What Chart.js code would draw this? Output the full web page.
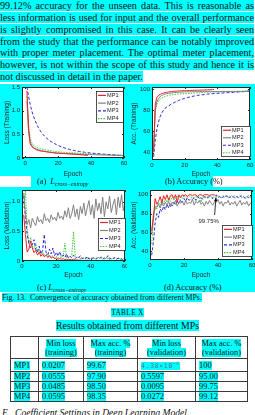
<!DOCTYPE html>
<html>
<head>
<meta charset="utf-8">
<script src="https://cdn.jsdelivr.net/npm/chart.js@4.4.0/dist/chart.umd.min.js"></script>
<style>
  html, body { margin: 0; padding: 0; background: #fff; }
  body { width: 255px; height: 415px; overflow: hidden; position: relative;
         font-family: "Liberation Serif", "Times New Roman", serif; color: #111; }
  .ab { position: absolute; }
  .hl { background: #00ffff; }
  .ln { position: absolute; left: 0; width: 254px; height: 11px; font-size: 10.2px; line-height: 11px;
        white-space: nowrap; text-align: justify; text-align-last: justify; }
  .cap { position: absolute; font-size: 8.3px; line-height: 10px; white-space: nowrap; }
  .cap sub { font-size: 5.8px; vertical-align: -1.5px; }
  table.tb { border-collapse: collapse; font-size: 8.4px; line-height: 9px; }
  table.tb td { border: 1px solid #3a3a3a; padding: 0 0 0 3px; vertical-align: middle; }
  .sci { font-family: "DejaVu Sans Mono", monospace; font-size: 6.6px; color: #4d7896; letter-spacing: 0.6px; }
</style>
</head>
<body>
<div class="ln hl" style="top:0px">99.12% accuracy for the unseen data. This is reasonable as</div>
<div class="ln hl" style="top:12px">less information is used for input and the overall performance</div>
<div class="ln hl" style="top:24px">is slightly compromised in this case. It can be clearly seen</div>
<div class="ln hl" style="top:36px">from the study that the performance can be notably improved</div>
<div class="ln hl" style="top:47px">with proper meter placement. The optimal meter placement,</div>
<div class="ln hl" style="top:59px">however, is not within the scope of this study and hence it is</div>
<div class="ln" style="top:71px;text-align-last:left"><span class="hl">not discussed in detail in the paper.</span></div>

<div class="ab hl" style="left:0;top:84px;width:255px;height:208px"></div>
<div class="ab" style="left:0;top:176px;width:31px;height:11px;background:#fff"></div>
<div class="ab" style="left:213px;top:176px;width:42px;height:11px;background:#fff"></div>

<canvas id="cA" class="ab"></canvas>
<canvas id="cB" class="ab"></canvas>
<canvas id="cC" class="ab"></canvas>
<canvas id="cD" class="ab"></canvas>

<div class="cap" style="left:37px;top:177px">(a)&nbsp; <i>L</i><sub><i>cross−entropy</i></sub></div>
<div class="cap" style="left:165px;top:177px">(b) Accuracy (%)</div>
<div class="cap" style="left:37px;top:283px">(c) <i>L</i><sub><i>cross−entropy</i></sub></div>
<div class="cap" style="left:164px;top:283px">(d) Accuracy (%)</div>

<div class="ab" style="left:2px;top:293px;font-size:7.8px;line-height:10px;white-space:nowrap"><span class="hl">Fig. 13.&nbsp; Convergence of accuracy obtained from different MPs.</span></div>

<div class="ab" style="left:0;top:308px;width:255px;text-align:center;font-size:7.4px;line-height:9px;letter-spacing:0.3px"><span class="hl">TABLE X</span></div>
<div class="ab" style="left:0;top:320px;width:255px;text-align:center;font-size:9.8px;line-height:12px"><span class="hl">Results obtained from different MPs</span></div>

<table class="ab tb" style="left:10px;top:336px">
  <colgroup><col style="width:28px"><col style="width:45px"><col style="width:54px"><col style="width:58px"><col style="width:52px"></colgroup>
  <tr style="height:22px">
    <td></td>
    <td style="text-align:center;padding:0"><span class="hl">Min loss</span><br><span class="hl">(training)</span></td>
    <td style="text-align:center;padding:0"><span class="hl">Max acc. %</span><br><span class="hl">(training)</span></td>
    <td style="text-align:center;padding:0"><span class="hl">Min loss</span><br><span class="hl">(validation)</span></td>
    <td style="text-align:center;padding:0"><span class="hl">Max acc. %</span><br><span class="hl">(validation)</span></td>
  </tr>
  <tr style="height:10px"><td><span class="hl">MP1</span></td><td><span class="hl">0.0207</span></td><td><span class="hl">99.67</span></td><td><span class="hl sci">4.38×10<sup style="font-size:4.5px">−5</sup></span></td><td><span class="hl">100</span></td></tr>
  <tr style="height:10px"><td><span class="hl">MP2</span></td><td><span class="hl">0.0555</span></td><td><span class="hl">97.90</span></td><td><span class="hl">0.5597</span></td><td><span class="hl">95.00</span></td></tr>
  <tr style="height:10px"><td><span class="hl">MP3</span></td><td><span class="hl">0.0485</span></td><td><span class="hl">98.50</span></td><td><span class="hl">0.0095</span></td><td><span class="hl">99.75</span></td></tr>
  <tr style="height:10px"><td><span class="hl">MP4</span></td><td><span class="hl">0.0595</span></td><td><span class="hl">98.35</span></td><td><span class="hl">0.0272</span></td><td><span class="hl">99.12</span></td></tr>
</table>

<div class="ab" style="left:2px;top:407px;font-size:9.6px;line-height:11px;font-style:italic;white-space:nowrap">E.&nbsp; Coefficient Settings in Deep Learning Model</div>

<script>
// epochs and tick labels
const epochs = [1,2,3,4,5,6,7,8,9,10,11,12,13,14,15,16,17,18,19,20,
  21,22,23,24,25,26,27,28,29,30,31,32,33,34,35,36,37,38,39,40,
  41,42,43,44,45,46,47,48,49,50,51,52,53,54,55,56,57,58,59,60];
const mpNames = ['MP1', 'MP2', 'MP3', 'MP4'];
const xTicks = [0, 20, 40, 60];
const lossTrainTicks = [0, 0.5, 1, 1.5];
const lossValTicks = [0, 0.5, 1];
const accTicks = [40, 60, 80, 100];

// (a) training loss
const lossTrainMP1 = [1.42,0.6,0.3,0.24,0.21,0.19,0.17,0.16,0.15,0.145,
  0.14,0.135,0.13,0.125,0.12,0.115,0.11,0.105,0.1,0.1,
  0.098,0.096,0.094,0.092,0.09,0.088,0.086,0.084,0.082,0.08,
  0.078,0.075,0.072,0.068,0.064,0.06,0.056,0.052];
const lossTrainMP2 = [1.2,0.55,0.33,0.26,0.22,0.2,0.185,0.172,0.162,0.153,
  0.146,0.14,0.134,0.129,0.124,0.12,0.116,0.112,0.108,0.105,
  0.102,0.1,0.098,0.096,0.094,0.092,0.09,0.088,0.086,0.084,
  0.082,0.08,0.079,0.078,0.077,0.076,0.075,0.074,0.073,0.072,
  0.071,0.07,0.069,0.068,0.067,0.066,0.065,0.064,0.063,0.062,
  0.061,0.06,0.059,0.058,0.057,0.056,0.0555,0.0555,0.0555,0.0555];
const lossTrainMP3 = [1.5,1.3,1.13,0.99,0.88,0.79,0.71,0.64,0.58,0.53,
  0.49,0.45,0.42,0.39,0.36,0.34,0.32,0.3,0.28,0.265,
  0.25,0.235,0.222,0.21,0.2,0.19,0.18,0.172,0.164,0.156,
  0.15,0.144,0.138,0.132,0.127,0.122,0.117,0.113,0.109,0.105,
  0.101,0.098,0.095,0.092,0.089,0.086,0.083,0.08,0.077,0.074,
  0.071,0.068,0.066,0.064,0.061,0.058,0.055,0.052,0.05,0.0485];
const lossTrainMP4 = [1.3,0.72,0.42,0.32,0.26,0.24,0.22,0.21,0.2,0.19,
  0.182,0.175,0.168,0.162,0.156,0.15,0.145,0.14,0.135,0.13,
  0.127,0.124,0.121,0.118,0.115,0.113,0.111,0.109,0.107,0.105,
  0.103,0.101,0.099,0.097,0.095,0.093,0.091,0.089,0.087,0.085,
  0.083,0.081,0.079,0.077,0.076,0.075,0.074,0.073,0.072,0.071,
  0.07,0.069,0.068,0.067,0.066,0.065,0.063,0.061,0.06,0.0595];

// (b) training accuracy
const accTrainMP1 = [42,86,92,94,95,95.8,96.3,96.7,97,97.3,
  97.5,97.7,97.9,98,98.1,98.2,98.3,98.4,98.5,98.6,
  98.6,98.7,98.7,98.8,98.8,98.9,98.9,99,99,99.1,
  99.1,99.2,99.2,99.3,99.4,99.5,99.6,99.67];
const accTrainMP2 = [40,80,88,91,93,94,94.8,95.3,95.7,96,
  96.2,96.4,96.6,96.8,96.9,97,97.1,97.2,97.3,97.4,
  97.4,97.5,97.5,97.5,97.6,97.6,97.6,97.7,97.7,97.7,
  97.7,97.8,97.8,97.8,97.9,97.9,97.8,97.7,97.7,97.7,
  97.6,97.7,97.7,97.8,97.7,97.7,97.8,97.7,97.8,97.8,
  97.7,97.8,97.8,97.7,97.8,97.8,97.9,97.8,97.8,97.9];
const accTrainMP3 = [36,52,62,69,74,77.5,80,81.8,83,84,
  85,86,86.8,87.6,88.3,89,89.6,90.2,90.8,91.3,
  91.7,92.1,92.5,92.9,93.2,93.5,93.8,94.1,94.3,94.5,
  94.7,94.9,95.1,95.3,95.4,95.6,95.7,95.8,95.9,96,
  96.1,96.2,96.3,96.4,96.5,96.6,96.7,96.8,96.9,97,
  97.1,97.2,97.3,97.4,97.5,97.6,97.8,98,98.2,98.5];
const accTrainMP4 = [45,80,86,89,90.5,91.5,92.3,93,93.5,94,
  94.3,94.6,94.8,95,95.2,95.3,95.4,95.5,95.6,95.7,
  95.8,95.9,96,96.1,96.2,96.3,96.4,96.5,96.6,96.7,
  96.8,96.9,97,97,97.1,97.1,97.2,97.2,97.3,97.3,
  97.4,97.4,97.5,97.5,97.6,97.6,97.7,97.7,97.8,97.8,
  97.9,97.9,98,98,98.1,98.1,98.2,98.2,98.3,98.35];

// (c) validation loss
const lossValMP1 = [0.78,0.45,0.15,0.2,0.34,0.22,0.14,0.18,0.1,0.15,
  0.08,0.12,0.07,0.1,0.06,0.09,0.05,0.07,0.04,0.05,
  0.03,0.04,0.03,0.035,0.025,0.03,0.02,0.025,0.02,0.03,
  0.015,0.02,0.012,0.015,0.01,0.012,0.008,0.0044];
const lossValMP2 = [1.15,0.78,0.62,0.7,0.5597,0.72,0.65,0.6,0.75,0.66,
  0.7,0.63,0.8,0.68,0.72,0.65,0.78,0.7,0.74,0.68,
  0.82,0.72,0.76,0.7,0.85,0.74,0.9,0.72,0.8,0.95,
  0.75,0.88,0.7,0.92,0.8,0.98,0.76,0.9,1.02,0.78,
  0.95,0.72,1.05,0.85,0.98,0.8,1.08,0.75,1.0,0.88,
  1.1,0.82,0.95,1.05,0.78,1.08,0.9,1.12,0.85,1.0];
const lossValMP3 = [1.1,0.72,0.45,0.3,0.22,0.28,0.36,0.2,0.15,0.25,
  0.12,0.18,0.45,0.15,0.1,0.2,0.12,0.22,0.09,0.15,
  0.08,0.16,0.07,0.1,0.06,0.12,0.05,0.08,0.05,0.1,
  0.04,0.07,0.05,0.09,0.04,0.06,0.035,0.08,0.03,0.05,
  0.04,0.06,0.03,0.05,0.04,0.07,0.03,0.05,0.04,0.09,
  0.03,0.05,0.04,0.06,0.03,0.05,0.02,0.04,0.0095,0.03];
const lossValMP4 = [0.9,1.2,0.55,0.3,0.4,0.25,0.2,0.3,0.15,0.2,
  0.12,0.15,0.1,0.12,0.08,0.1,0.07,0.09,0.06,0.08,
  0.05,0.07,0.06,0.08,0.3,0.06,0.05,0.07,0.1,0.5,
  0.08,0.05,0.06,0.04,0.05,0.04,0.06,0.03,0.05,0.04,
  0.06,0.05,0.04,0.07,0.05,0.04,0.06,0.0272,0.05,0.04,
  0.06,0.03,0.05,0.04,0.03,0.05,0.04,0.03,0.04,0.03];

// (d) validation accuracy
const accValMP1 = [62,75,96,90,93,98,91,99,95,100,
  94,99,100,96,100,92,100,97,100,99,
  100,98,100,100,99,100,100,98,100,100,
  99,100,100,100,99,100,100,100];
const accValMP2 = [58,80,85,88,90,86,91,88,92,89,
  93,87,92,90,94,88,92,91,93,89,
  94,90,92,91,95,89,93,91,94,90,
  92,88,93,90,94,91,89,93,92,95,
  90,93,88,92,91,94,89,92,90,93,
  88,91,94,89,92,90,93,88,91,92];
const accValMP3 = [36,50,70,80,76,85,82,88,84,90,
  86,91,88,92,89,94,90,95,92,96,
  93,97,94,96,95,97,94,98,96,97,
  95,98,96,97,98,97,96,98,99.75,97,
  98,96,98,97,99,96,98,97,98,96,
  98,97,99,97,98,96,98,97,98,95];
const accValMP4 = [48,72,88,85,92,89,95,90,96,92,
  97,93,98,94,97,99,95,98,96,99,
  97,98,99,97,98,96,99,97,98,92,
  98,99,97,98,99,98,97,99,98,99,
  98,97,99,98,99,98,97,99.12,98,99,
  98,97,98,99,98,97,98,99,98,98];

const lineColors = ['#e3262b', '#828282', '#2a2ad8', '#3ccd3c'];
const lineDash = [[], [], [3, 2], [1.5, 1.2]];
const inkColor = '#262626';
const tickFont = { family: 'Liberation Sans', size: 6 };
const titleFont = { family: 'Liberation Sans', size: 6.5 };

// white plot background + box frame + small inward ticks (matlab look)
const frame = {
  id: 'frame',
  beforeDatasetsDraw(chart) {
    const a = chart.chartArea, ctx = chart.ctx;
    ctx.save();
    ctx.fillStyle = '#fff';
    ctx.fillRect(a.left, a.top, a.right - a.left, a.bottom - a.top);
    ctx.restore();
  },
  afterDatasetsDraw(chart) {
    const a = chart.chartArea, ctx = chart.ctx;
    ctx.save();
    ctx.strokeStyle = inkColor;
    ctx.lineWidth = 1;
    ctx.strokeRect(Math.round(a.left) + 0.5, Math.round(a.top) + 0.5,
      Math.round(a.right - a.left) - 1, Math.round(a.bottom - a.top) - 1);
    ctx.beginPath();
    chart.scales.x.ticks.forEach(t => {
      const px = Math.round(chart.scales.x.getPixelForValue(t.value)) + 0.5;
      ctx.moveTo(px, a.bottom); ctx.lineTo(px, a.bottom - 2);
      ctx.moveTo(px, a.top); ctx.lineTo(px, a.top + 2);
    });
    chart.scales.y.ticks.forEach(t => {
      const py = Math.round(chart.scales.y.getPixelForValue(t.value)) + 0.5;
      ctx.moveTo(a.left, py); ctx.lineTo(a.left + 2, py);
      ctx.moveTo(a.right, py); ctx.lineTo(a.right - 2, py);
    });
    ctx.stroke();
    ctx.restore();
  }
};

// legend box drawn inside the plot area
const boxLegend = {
  id: 'boxLegend',
  afterDatasetsDraw(chart, args, o) {
    if (!o || !o.w) return;
    const a = chart.chartArea, ctx = chart.ctx;
    const x = Math.round(a.right - o.right - o.w);
    const y = Math.round(o.fromTop ? a.top + o.dy : a.bottom - o.dy - o.h);
    ctx.save();
    ctx.fillStyle = '#fff';
    ctx.fillRect(x, y, o.w, o.h);
    ctx.strokeStyle = inkColor;
    ctx.lineWidth = 0.8;
    ctx.strokeRect(x + 0.5, y + 0.5, o.w, o.h);
    ctx.font = '5.6px "Liberation Sans"';
    ctx.textBaseline = 'middle';
    chart.data.datasets.forEach((d, i) => {
      const yy = y + o.h * (i + 0.5) / chart.data.datasets.length + 0.5;
      ctx.strokeStyle = d.borderColor;
      ctx.setLineDash(d.borderDash);
      ctx.lineWidth = 1.2;
      ctx.beginPath(); ctx.moveTo(x + 2, yy); ctx.lineTo(x + 10, yy); ctx.stroke();
      ctx.setLineDash([]);
      ctx.fillStyle = inkColor;
      ctx.fillText(d.label, x + 11, yy);
    });
    ctx.restore();
  }
};

// text + arrow annotation
const arrowNote = {
  id: 'arrowNote',
  afterDatasetsDraw(chart, args, o) {
    if (!o || !o.text) return;
    const sx = chart.scales.x, sy = chart.scales.y, ctx = chart.ctx;
    const hx = sx.getPixelForValue(o.hx), hy = sy.getPixelForValue(o.hy);
    const tx = sx.getPixelForValue(o.tx), ty = sy.getPixelForValue(o.ty);
    const lx = sx.getPixelForValue(o.lx), ly = sy.getPixelForValue(o.ly);
    ctx.save();
    ctx.strokeStyle = '#000'; ctx.fillStyle = '#000'; ctx.lineWidth = 0.8;
    ctx.beginPath(); ctx.moveTo(tx, ty); ctx.lineTo(hx, hy); ctx.stroke();
    const ang = Math.atan2(hy - ty, hx - tx);
    ctx.beginPath();
    ctx.moveTo(hx, hy);
    ctx.lineTo(hx - 4 * Math.cos(ang - 0.4), hy - 4 * Math.sin(ang - 0.4));
    ctx.lineTo(hx - 4 * Math.cos(ang + 0.4), hy - 4 * Math.sin(ang + 0.4));
    ctx.closePath(); ctx.fill();
    ctx.font = '6px "Liberation Sans"';
    ctx.fillStyle = inkColor;
    ctx.textAlign = 'center'; ctx.textBaseline = 'middle';
    ctx.fillText(o.text, lx, ly);
    ctx.restore();
  }
};

function build(cfg) {
  const cv = document.getElementById(cfg.id);
  const [cl, ct, cw, ch] = cfg.box;     // canvas box on the page
  const [pl, pt, pr, pb] = cfg.plot;    // plot edges on the page
  cv.style.left = cl + 'px'; cv.style.top = ct + 'px';
  cv.width = cw; cv.height = ch;
  cv.style.width = cw + 'px'; cv.style.height = ch + 'px';
  const noPad = s => { s.paddingLeft = 0; s.paddingRight = 0; s.paddingTop = 0; s.paddingBottom = 0; };
  new Chart(cv, {
    type: 'line',
    data: {
      datasets: cfg.series.map((vals, k) => ({
        label: mpNames[k],
        data: vals.map((v, i) => ({ x: epochs[i], y: v })),
        borderColor: lineColors[k],
        borderDash: lineDash[k],
        borderWidth: 1,
        pointRadius: 0,
        tension: 0,
        fill: false
      }))
    },
    options: {
      responsive: false,
      animation: false,
      layout: { padding: { left: 0, top: pt - ct, right: cl + cw - pr, bottom: 0 } },
      plugins: {
        legend: { display: false },
        tooltip: { enabled: false },
        boxLegend: cfg.legend,
        arrowNote: cfg.note || {}
      },
      scales: {
        x: {
          type: 'linear', min: cfg.xr[0], max: cfg.xr[1],
          afterFit: s => { s.height = ct + ch - pb; noPad(s); },
          afterBuildTicks: s => { s.ticks = xTicks.map(v => ({ value: v })); },
          grid: { display: false, drawTicks: false },
          border: { display: false },
          ticks: { font: tickFont, color: inkColor, padding: 2, maxRotation: 0, autoSkip: false },
          title: { display: true, text: 'Epoch', font: titleFont, color: inkColor, padding: { top: 0, bottom: 1 } }
        },
        y: {
          min: cfg.yr[0], max: cfg.yr[1],
          afterFit: s => { s.width = pl - cl; noPad(s); },
          afterBuildTicks: s => { s.ticks = cfg.yt.map(v => ({ value: v })); },
          grid: { display: false, drawTicks: false },
          border: { display: false },
          ticks: { font: tickFont, color: inkColor, padding: 2, autoSkip: false },
          title: { display: true, text: cfg.ytitle, font: titleFont, color: inkColor, padding: { top: 3, bottom: 0 } }
        }
      }
    },
    plugins: [frame, boxLegend, arrowNote]
  });
}

build({ id: 'cA', box: [0, 84, 127, 95], plot: [22, 87, 124, 158], xr: [-2, 60], yr: [0, 1.5],
  yt: lossTrainTicks, ytitle: 'Loss (Training)',
  series: [lossTrainMP1, lossTrainMP2, lossTrainMP3, lossTrainMP4],
  legend: { w: 27, h: 31, right: 1, fromTop: true, dy: 4 } });

build({ id: 'cB', box: [127, 84, 128, 95], plot: [152, 87, 250, 160], xr: [0, 60], yr: [33, 102],
  yt: accTicks, ytitle: 'Acc. (Training)',
  series: [accTrainMP1, accTrainMP2, accTrainMP3, accTrainMP4],
  legend: { w: 29, h: 30, right: 0, fromTop: false, dy: 4 } });

build({ id: 'cC', box: [0, 186, 127, 94], plot: [22, 190, 125, 261], xr: [0, 60], yr: [0, 1.2],
  yt: lossValTicks, ytitle: 'Loss (Validation)',
  series: [lossValMP1, lossValMP2, lossValMP3, lossValMP4],
  legend: { w: 27, h: 32, right: 0, fromTop: false, dy: 11 } });

build({ id: 'cD', box: [127, 186, 128, 94], plot: [150, 190, 252, 260], xr: [0, 60], yr: [31, 105],
  yt: accTicks, ytitle: 'Acc. (Validation)',
  series: [accValMP1, accValMP2, accValMP3, accValMP4],
  legend: { w: 30, h: 31, right: 0, fromTop: false, dy: 4 },
  note: { text: '99.75%', hx: 38.8, hy: 97, tx: 38, ty: 78.5, lx: 34.5, ly: 72 } });
</script>
</body>
</html>
